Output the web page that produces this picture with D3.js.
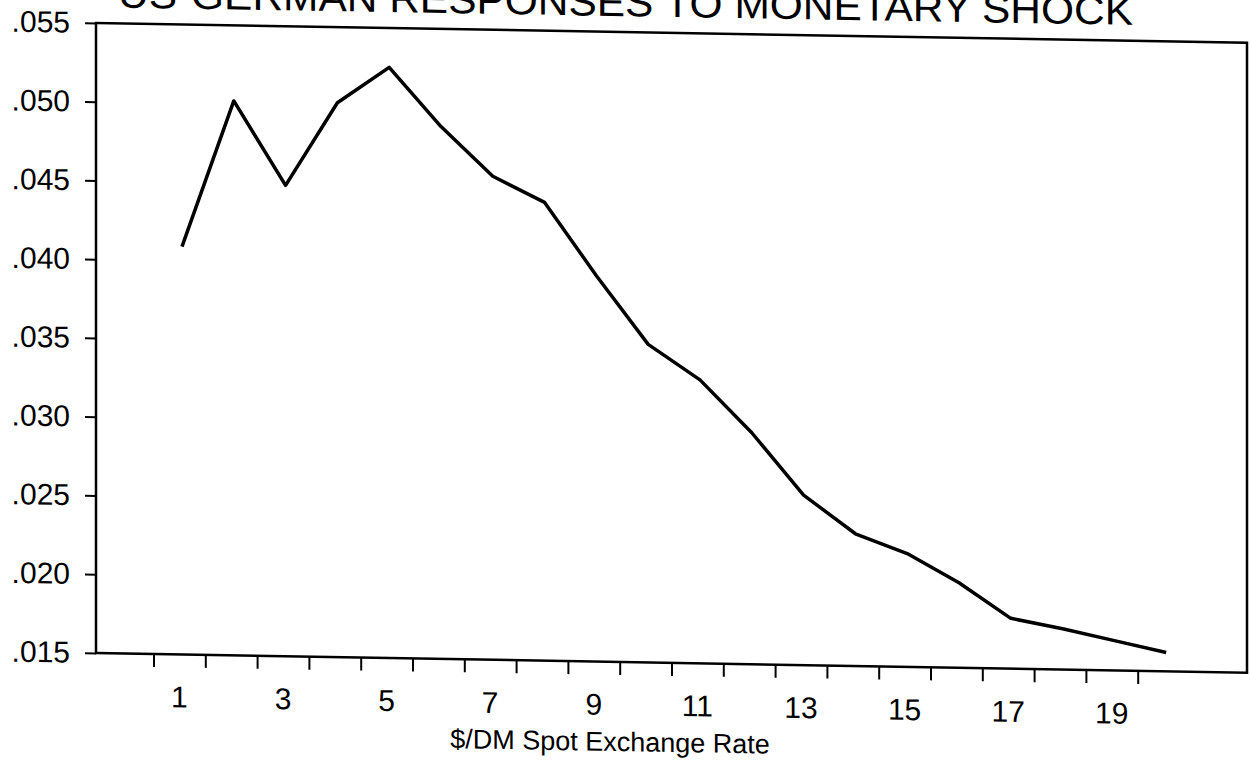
<!DOCTYPE html>
<html>
<head>
<meta charset="utf-8">
<script src="https://cdn.jsdelivr.net/npm/d3@7"></script>
<style>
  body { margin: 0; background: #fff; }
  text { font-family: "Liberation Sans", Arial, sans-serif; fill: #000; }
</style>
</head>
<body>
<div id="chart"></div>
<script>
// impulse response, periods 1..20
var periods = [1, 2, 3, 4, 5, 6, 7, 8, 9, 10, 11, 12, 13, 14, 15, 16, 17, 18, 19, 20];
var response = [0.0409, 0.0502, 0.0449, 0.0502, 0.0525, 0.0488, 0.0457, 0.0441, 0.0395, 0.0352,
                0.0330, 0.0297, 0.0258, 0.0234, 0.0222, 0.0204, 0.0182, 0.0176, 0.0169, 0.0162];
var yTicks = [0.015, 0.020, 0.025, 0.030, 0.035, 0.040, 0.045, 0.050, 0.055];
var xLabels = [1, 3, 5, 7, 9, 11, 13, 15, 17, 19];
var title = "US-GERMAN RESPONSES TO MONETARY SHOCK";
var xTitle = "$/DM Spot Exchange Rate";

var width = 1250,
    height = 766;

var svg = d3.select("#chart")
    .append("svg")
    .attr("width", width)
    .attr("height", height);

svg.append("rect")
    .attr("width", width)
    .attr("height", height)
    .attr("fill", "#fff");

// the scanned page is sheared a little, horizontal lines drop to the right
var shear = 0.0172;
var g = svg.append("g")
    .attr("transform", "matrix(1," + shear + ",0,1,0," + (-shear * 96) + ")");

var x = d3.scaleLinear()
    .domain([-0.66, 21.56])
    .range([96, 1247]);

var y = d3.scaleLinear()
    .domain([0.015, 0.055])
    .range([653, 23]);

// frame
g.append("rect")
    .attr("x", x.range()[0])
    .attr("y", y.range()[1])
    .attr("width", x.range()[1] - x.range()[0])
    .attr("height", y.range()[0] - y.range()[1])
    .attr("fill", "none")
    .attr("stroke", "#000")
    .attr("stroke-width", 2.5);

var yAxis = g.append("g")
    .attr("transform", "translate(" + x.range()[0] + ",0)")
    .call(d3.axisLeft(y)
        .tickValues(yTicks)
        .tickSize(11)
        .tickPadding(15)
        .tickFormat(function(d) { return d3.format(".3f")(d).slice(1); }));
yAxis.select(".domain").remove();
yAxis.selectAll("line").attr("stroke", "#000").attr("stroke-width", 2);
yAxis.selectAll("text")
    .attr("font-family", "Liberation Sans")
    .attr("font-size", 30)
    .attr("fill", "#000");

// tick marks sit between the periods
var xAxis = g.append("g")
    .attr("transform", "translate(0," + y.range()[0] + ")")
    .call(d3.axisBottom(x)
        .tickValues(periods.map(function(p) { return p - 0.55; }))
        .tickSize(13)
        .tickFormat(""));
xAxis.select(".domain").remove();
xAxis.selectAll("line").attr("stroke", "#000").attr("stroke-width", 2);

g.selectAll(".xlab")
    .data(xLabels)
    .enter()
    .append("text")
    .attr("class", "xlab")
    .attr("x", function(d) { return x(d - 0.05); })
    .attr("y", 706)
    .attr("text-anchor", "middle")
    .attr("font-size", 30)
    .text(function(d) { return d; });

g.append("text")
    .attr("x", 610)
    .attr("y", 742)
    .attr("text-anchor", "middle")
    .attr("font-family", "Lato, 'Liberation Sans', sans-serif")
    .attr("font-size", 27)
    .text(xTitle);

g.append("text")
    .attr("x", 118)
    .attr("y", 7)
    .attr("font-size", 40)
    .attr("textLength", 1015)
    .attr("lengthAdjust", "spacingAndGlyphs")
    .text(title);

var line = d3.line()
    .x(function(d, i) { return x(periods[i]); })
    .y(function(d) { return y(d); });

g.append("path")
    .datum(response)
    .attr("fill", "none")
    .attr("stroke", "#000")
    .attr("stroke-width", 3.5)
    .attr("stroke-linejoin", "round")
    .attr("d", line);
</script>
</body>
</html>
